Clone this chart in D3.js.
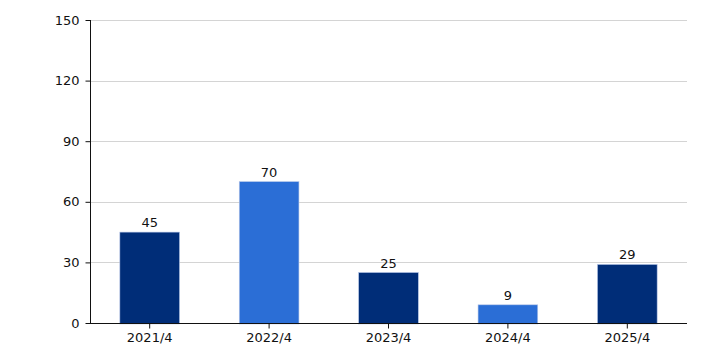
<!DOCTYPE html>
<html><head><meta charset="utf-8">
<script src="https://cdn.jsdelivr.net/npm/d3@7"></script>
<style>body{margin:0;background:#fff}text{font-family:"DejaVu Sans",Verdana,sans-serif}</style>
</head><body><svg id="c" width="706" height="353"></svg>
<script>
const categories = ["2021/4","2022/4","2023/4","2024/4","2025/4"];
const values = [45,70,25,9,29];
const barColors = ["#002D78","#2B6ED6","#002D78","#2B6ED6","#002D78"];
const yTicks = [0,30,60,90,120,150];

const svg = d3.select("#c");
const m = {l:90, r:19, t:20, b:30};
const W = 706, H = 353;
const x = d3.scaleBand().domain(categories).range([m.l, W-m.r]).paddingInner(0.5).paddingOuter(0.25);
const y = d3.scaleLinear().domain([0,150]).range([H-m.b, m.t]);

// grid
svg.append("g").selectAll("line").data(yTicks.filter(d=>d>0)).join("line")
  .attr("x1", m.l).attr("x2", W-m.r)
  .attr("y1", d=>Math.round(y(d))+0.5).attr("y2", d=>Math.round(y(d))+0.5)
  .attr("stroke", "#d4d4d4").attr("stroke-width", 1);

// bars
svg.append("g").selectAll("rect").data(values).join("rect")
  .attr("x", (d,i)=>x(categories[i]))
  .attr("width", x.bandwidth())
  .attr("y", d=>y(d))
  .attr("height", d=>y(0)-y(d)+1)
  .attr("fill", (d,i)=>barColors[i])
  .attr("stroke", "#b8c8e8").attr("stroke-width", 0.6);

// labels
svg.append("g").selectAll("text").data(values).join("text")
  .attr("x", (d,i)=>x(categories[i])+x.bandwidth()/2)
  .attr("y", d=>y(d)-5)
  .attr("text-anchor","middle").attr("font-size",13).attr("fill","#111")
  .text(d=>d);

// axes
const ya = svg.append("g").attr("transform",`translate(${m.l+0.5},0)`)
  .call(d3.axisLeft(y).tickValues(yTicks).tickSize(5).tickPadding(6));
ya.selectAll("text").attr("font-size",13).attr("fill","#111").style("font-family",'"DejaVu Sans",Verdana,sans-serif');
ya.select(".domain").attr("d", `M0,${m.t}V${y(0)}`).attr("stroke","#111");
ya.selectAll(".tick line").attr("stroke","#111");

const xa = svg.append("g").attr("transform",`translate(0,${Math.round(y(0))+0.5})`)
  .call(d3.axisBottom(x).tickSize(5).tickPadding(4));
xa.selectAll("text").attr("font-size",13).attr("fill","#111").style("font-family",'"DejaVu Sans",Verdana,sans-serif');
xa.select(".domain").attr("d", `M${m.l},0H${W-m.r}`).attr("stroke","#111");
xa.selectAll(".tick line").attr("stroke","#111");
</script></body></html>
